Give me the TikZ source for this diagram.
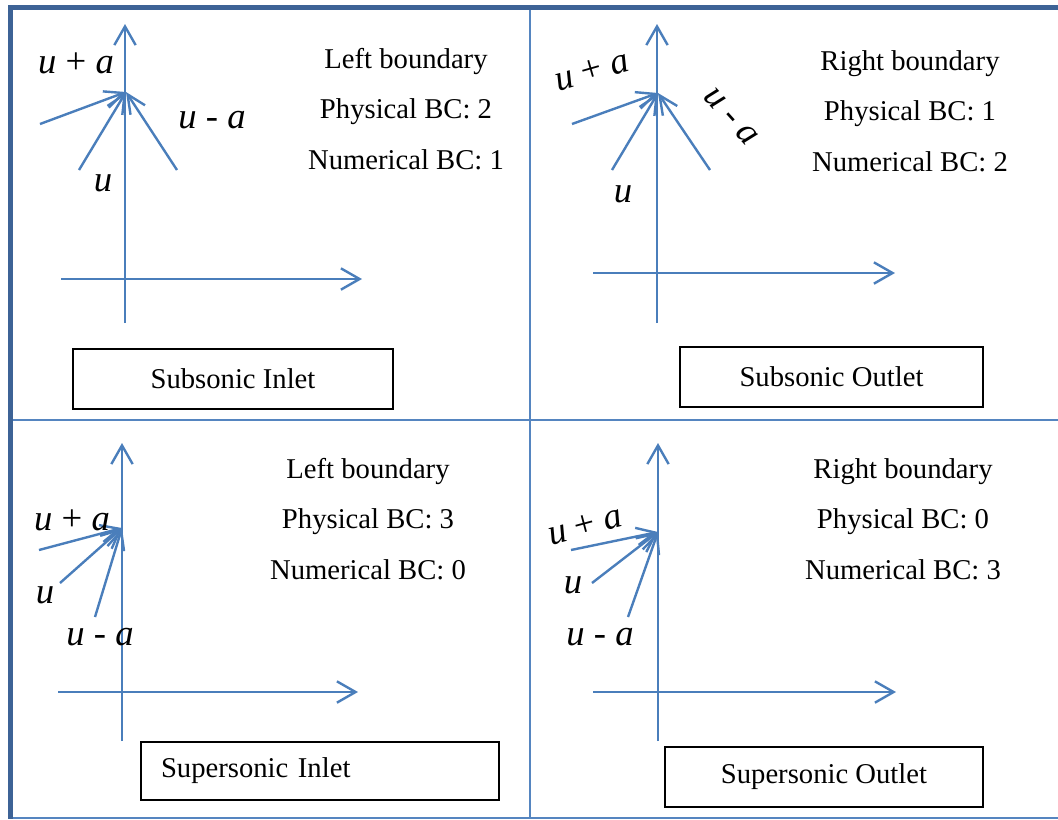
\documentclass[tikz,border=0pt]{standalone}
\usepackage{fontspec}
\setmainfont{Liberation Serif}
\usepackage{tikz}
\usetikzlibrary{positioning, arrows.meta}
\definecolor{azulmarco}{HTML}{3D6396}
\definecolor{azulrejilla}{HTML}{5585C0}
\definecolor{azuleje}{HTML}{4A7EBB}
\tikzset{
    marco_grueso/.style={draw=azulmarco, line width=3.75pt},
    marco_fino/.style={draw=azulrejilla, line width=1.4pt},
    flecha_eje/.style={draw=azuleje, line width=1.8pt, -{Straight Barb[length=14pt, width=16pt]}},
    flecha_car/.style={draw=azuleje, line width=1.8pt, -{Straight Barb[length=14pt, width=13pt]}},
    texto_bc/.style={font=\fontsize{21.5}{26}\selectfont, text height=15.5pt, text depth=4.5pt, inner sep=0pt},
    etiqueta/.style={font=\fontsize{27.5}{32}\selectfont, inner sep=0pt},
    box_tipo/.style={rectangle, draw=black, line width=0.9pt, font=\fontsize{21.5}{26}\selectfont, minimum height=45pt, inner sep=0pt}
}

\begin{document}
\begin{tikzpicture}[x=0.75pt, y=0.75pt, node distance=17.5pt]
    \useasboundingbox (0,0) rectangle (1058,-819);

    % marco de la tabla
    \draw[marco_fino] (530,-9) -- (530,-819);
    \draw[marco_fino] (12,-420) -- (1058,-420);
    \draw[marco_fino] (12,-818) -- (1058,-818);
    \draw[marco_grueso] (8,-7) -- (1058,-7);
    \draw[marco_grueso] (10,-5) -- (10,-819);

    % --- Subsonic Inlet ---
    \coordinate (a1_ini) at (125,-323);  \coordinate (a1_fin) at (125,-24);
    \coordinate (b1_ini) at (61,-279);   \coordinate (b1_fin) at (362,-279);
    \coordinate (p1) at (126,-92);
    \coordinate (ua1) at (40,-124); \coordinate (u1) at (79,-170); \coordinate (uma1) at (177,-170);
    \draw[flecha_eje] (a1_ini) -- (a1_fin);
    \draw[flecha_eje] (b1_ini) -- (b1_fin);
    \draw[flecha_car] (ua1) -- (p1);
    \draw[flecha_car] (u1) -- (p1);
    \draw[flecha_car] (uma1) -- (p1);
    \node[etiqueta] (lua1) at (76,-63) {\textit{u} + \textit{a}};
    \node[etiqueta] (luma1) at (212,-120) {\textit{u} - \textit{a}};
    \node[etiqueta] (lu1) at (103,-183) {\textit{u}};
    \node[texto_bc] (lb1) at (406,-60.7) {Left boundary};
    \node[texto_bc, below=of lb1] (pb1) {Physical BC: 2};
    \node[texto_bc, below=of pb1] (nb1) {Numerical BC: 1};
    \node[box_tipo, minimum width=240pt] (c1) at (233,-379) {Subsonic Inlet};

    % --- Subsonic Outlet ---
    \coordinate (a2_ini) at (657,-323);  \coordinate (a2_fin) at (657,-24);
    \coordinate (b2_ini) at (593,-273);  \coordinate (b2_fin) at (895,-273);
    \coordinate (p2) at (658,-93);
    \coordinate (ua2) at (572,-124); \coordinate (u2) at (612,-170); \coordinate (uma2) at (710,-170);
    \draw[flecha_eje] (a2_ini) -- (a2_fin);
    \draw[flecha_eje] (b2_ini) -- (b2_fin);
    \draw[flecha_car] (ua2) -- (p2);
    \draw[flecha_car] (u2) -- (p2);
    \draw[flecha_car] (uma2) -- (p2);
    \node[etiqueta, rotate=16] (lua2) at (592,-71) {\textit{u} + \textit{a}};
    \node[etiqueta, rotate=-48] (luma2) at (731,-117) {\textit{u} - \textit{a}};
    \node[etiqueta] (lu2) at (623,-194) {\textit{u}};
    \node[texto_bc] (lb2) at (910,-62.7) {Right boundary};
    \node[texto_bc, below=of lb2] (pb2) {Physical BC: 1};
    \node[texto_bc, below=of pb2] (nb2) {Numerical BC: 2};
    \node[box_tipo, minimum width=227.25pt] (c2) at (831.5,-377) {Subsonic Outlet};

    % --- Supersonic Inlet ---
    \coordinate (a3_ini) at (122,-741);  \coordinate (a3_fin) at (122,-443);
    \coordinate (b3_ini) at (58,-692);   \coordinate (b3_fin) at (358,-692);
    \coordinate (p3) at (122,-528);
    \coordinate (ua3) at (39,-550); \coordinate (u3) at (60,-583); \coordinate (uma3) at (95,-617);
    \draw[flecha_eje] (a3_ini) -- (a3_fin);
    \draw[flecha_eje] (b3_ini) -- (b3_fin);
    \draw[flecha_car] (ua3) -- (p3);
    \draw[flecha_car] (u3) -- (p3);
    \draw[flecha_car] (uma3) -- (p3);
    \node[etiqueta] (lua3) at (72,-520) {\textit{u} + \textit{a}};
    \node[etiqueta] (lu3) at (45,-595) {\textit{u}};
    \node[etiqueta] (luma3) at (100,-637) {\textit{u} - \textit{a}};
    \node[texto_bc] (lb3) at (368,-470.7) {Left boundary};
    \node[texto_bc, below=of lb3] (pb3) {Physical BC: 3};
    \node[texto_bc, below=of pb3] (nb3) {Numerical BC: 0};
    \node[box_tipo, minimum width=268.5pt, minimum height=43.5pt, text width=238.5pt, inner xsep=15pt, align=left] (c3) at (320,-771) {Supersonic Inlet};

    % --- Supersonic Outlet ---
    \coordinate (a4_ini) at (658,-741);  \coordinate (a4_fin) at (658,-443);
    \coordinate (b4_ini) at (593,-692);  \coordinate (b4_fin) at (896,-692);
    \coordinate (p4) at (658,-532);
    \coordinate (ua4) at (571,-550); \coordinate (u4) at (592,-583); \coordinate (uma4) at (628,-617);
    \draw[flecha_eje] (a4_ini) -- (a4_fin);
    \draw[flecha_eje] (b4_ini) -- (b4_fin);
    \draw[flecha_car] (ua4) -- (p4);
    \draw[flecha_car] (u4) -- (p4);
    \draw[flecha_car] (uma4) -- (p4);
    \node[etiqueta, rotate=15] (lua4) at (585,-526) {\textit{u} + \textit{a}};
    \node[etiqueta] (lu4) at (573,-585) {\textit{u}};
    \node[etiqueta] (luma4) at (600,-637) {\textit{u} - \textit{a}};
    \node[texto_bc] (lb4) at (903,-470.7) {Right boundary};
    \node[texto_bc, below=of lb4] (pb4) {Physical BC: 0};
    \node[texto_bc, below=of pb4] (nb4) {Numerical BC: 3};
    \node[box_tipo, minimum width=238.5pt] (c4) at (824,-777) {Supersonic Outlet};
\end{tikzpicture}
\end{document}
